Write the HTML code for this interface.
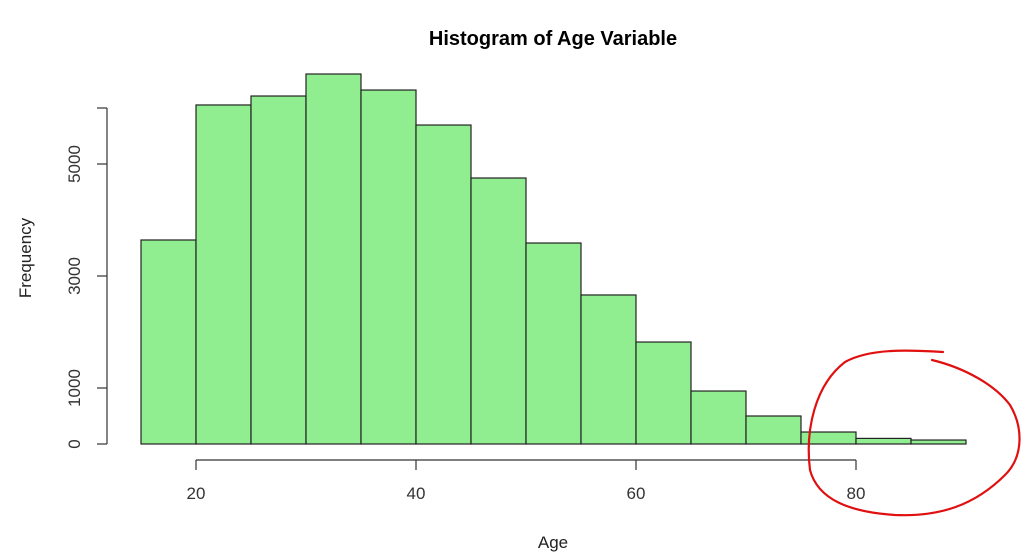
<!DOCTYPE html>
<html><head><meta charset="utf-8"><style>
body{margin:0;background:#fff;}
svg{display:block;font-family:"Liberation Sans",Arial,sans-serif;}
</style></head><body>
<svg id="chart" width="1024" height="559" viewBox="0 0 1024 559">
<text x="553" y="45" text-anchor="middle" font-size="20" font-weight="bold" fill="#000">Histogram of Age Variable</text>
<text x="553" y="548" text-anchor="middle" font-size="17" fill="#222">Age</text>
<text transform="translate(31,258) rotate(-90)" text-anchor="middle" font-size="17" fill="#222">Frequency</text>
<g id="bars"></g>
<g id="xaxis"></g>
<g id="yaxis"></g>
<path d="M943,352 C910,350 870,348 845,362 C815,385 805,430 810,470 C818,500 850,512 895,515 C940,517 975,505 1005,475 C1025,455 1022,425 1010,405 C995,385 965,368 932,360" fill="none" stroke="#e01010" stroke-width="2.2" stroke-linecap="round"/>
</svg>
<script>
const binStarts=[15,20,25,30,35,40,45,50,55,60,65,70,75,80,85];
const counts=[3643,6054,6214,6607,6321,5696,4750,3589,2661,1821,946,500,214,100,71];
const xTicks=[20,40,60,80];
const yTicks=[0,1000,3000,5000];
const binWidth=5;
const NS="http://www.w3.org/2000/svg";
const xs=v=>196+(v-20)*11;
const ys=v=>444-v*0.056;
function mk(t,a,p){const e=document.createElementNS(NS,t);for(const k in a)e.setAttribute(k,a[k]);p.appendChild(e);return e;}
const bars=document.getElementById('bars');
binStarts.forEach((b,i)=>{
 const r=mk('rect',{x:xs(b),y:ys(counts[i]),width:xs(b+binWidth)-xs(b),height:ys(0)-ys(counts[i]),fill:'#90ee90',stroke:'#222','stroke-width':1.2},bars);
 
 
});
const xa=document.getElementById('xaxis');
mk('line',{x1:xs(xTicks[0]),x2:xs(xTicks[xTicks.length-1]),y1:460,y2:460,stroke:'#333','stroke-width':1.2},xa);
xTicks.forEach(t=>{
 mk('line',{x1:xs(t),x2:xs(t),y1:460,y2:470,stroke:'#333','stroke-width':1.2},xa);
 const tx=mk('text',{x:xs(t),y:499,'text-anchor':'middle','font-size':17,fill:'#333'},xa);
 tx.textContent=t;
 
 
});
const ya=document.getElementById('yaxis');
mk('line',{x1:107,x2:107,y1:ys(0),y2:ys(6000),stroke:'#333','stroke-width':1.2},ya);
yTicks.concat([6000]).forEach(t=>{
 mk('line',{x1:97,x2:107,y1:ys(t),y2:ys(t),stroke:'#333','stroke-width':1.2},ya);
});
yTicks.forEach(t=>{
 const tx=mk('text',{transform:`translate(80,${ys(t)}) rotate(-90)`,'text-anchor':'middle','font-size':17,fill:'#333'},ya);
 tx.textContent=t;
 
 
});
</script>
</body></html>
